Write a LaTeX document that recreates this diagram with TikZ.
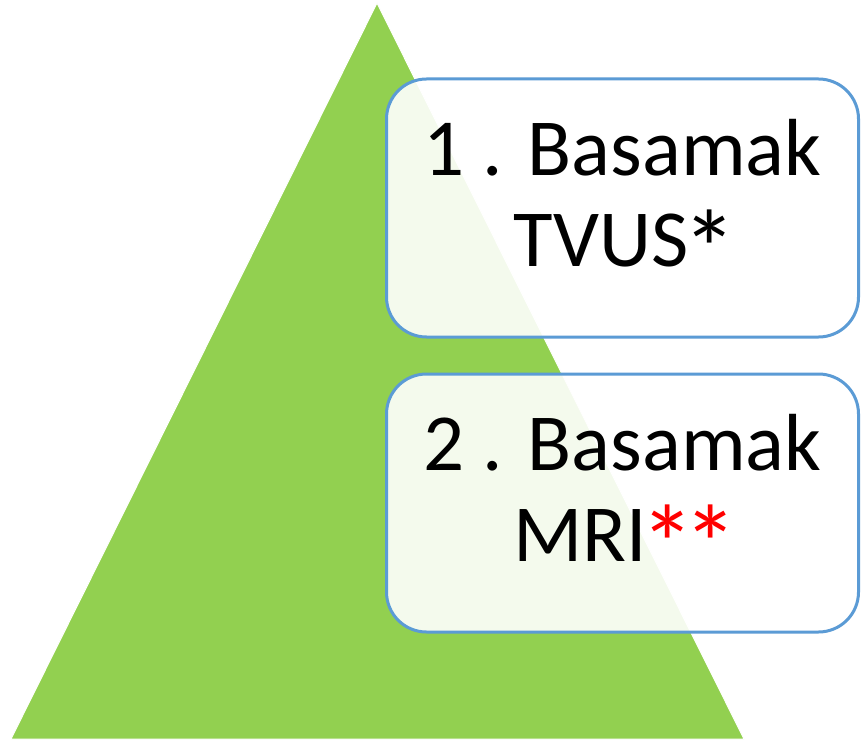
\documentclass[tikz,border=0pt]{standalone}
\usepackage{fontspec}
\setmainfont{Carlito}
\definecolor{trigreen}{HTML}{92D050}
\definecolor{boxblue}{HTML}{5B9BD5}
\definecolor{starred}{HTML}{FF0000}
\newcommand{\bigstar}{\kern-6pt\raisebox{-21pt}{\scalebox{1.35}{*}}\kern-6pt}
\begin{document}
\begin{tikzpicture}[x=1pt,y=-1pt,
  stepbox/.style={draw=boxblue, line width=3pt, fill=white, fill opacity=0.9, text opacity=1,
    rounded corners=40pt, minimum width=472pt, minimum height=258pt, inner sep=0pt},
  steptext/.style={align=center, font=\fontsize{81}{91}\selectfont, inner sep=0pt}]
\useasboundingbox (0,0) rectangle (861,743);
\fill[white] (0,0) rectangle (861,743);
\draw[fill=trigreen, draw=white, line width=1pt] (377,3) -- (744,739) -- (11,739) -- cycle;
\node[stepbox] (b1) at (622.5,208) {};
\node[stepbox] (b2) at (622.5,503) {};
\node[steptext] (t1) at (622.5,203.5) {1 . Basamak\\TVUS\bigstar};
\node[steptext] (t2) at (622.5,498.5) {2 . Basamak\\MRI\textcolor{starred}{\bigstar\bigstar}};
\end{tikzpicture}
\end{document}
